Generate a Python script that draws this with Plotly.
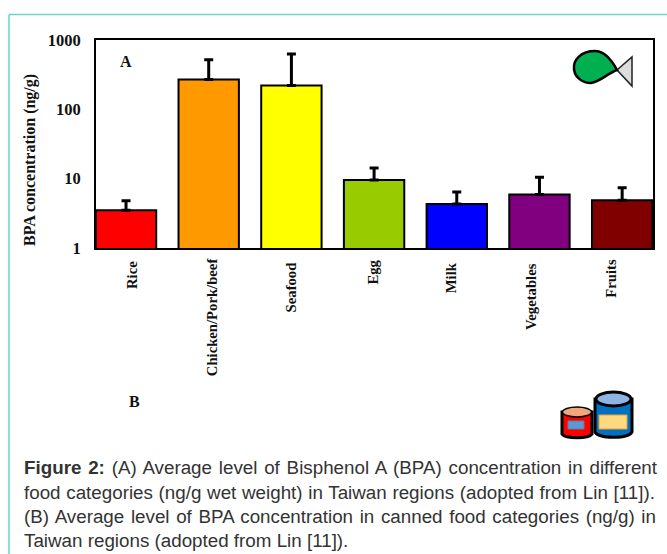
import plotly.graph_objects as go

categories = ["Rice", "Chicken/Pork/beef", "Seafood", "Egg", "Milk", "Vegetables", "Fruits"]
values = [3.5, 270, 220, 9.6, 4.3, 5.9, 4.9]
upper = [4.8, 520, 630, 14.3, 6.4, 10.5, 7.4]
colors = ["#ff0000", "#ff9900", "#ffff00", "#99cc00", "#0000ff", "#800080", "#800000"]
label_shift = [6, 3, 0, -2, -6, -9, -12]
label_top = [260, 256, 261, 259, 261, 262, 258]
y_ticks = [1, 10, 100, 1000]
caption = [
    "<b>Figure 2:</b> (A) Average level of Bisphenol A (BPA) concentration in different",
    "food categories (ng/g wet weight) in Taiwan regions (adopted from Lin [11]).",
    "(B) Average level of BPA concentration in canned food categories (ng/g) in",
    "Taiwan regions (adopted from Lin [11]).",
]

W, H = 667, 554
L, R, T, B = 96, 653, 40, 248
SERIF = "Liberation Serif"
SANS = "Liberation Sans"


def px(x):
    return (x - L) / (R - L)


def py(y):
    return (B - y) / (B - T)


def path(d):
    out, is_x = [], True
    for tok in d.split():
        try:
            v = float(tok)
        except ValueError:
            out.append(tok)
            continue
        out.append(f"{px(v) if is_x else py(v):.5f}")
        is_x = not is_x
    return " ".join(out)


def shape(d, fill, line="#000000", width=2.5):
    return dict(type="path", xref="paper", yref="paper", path=path(d), fillcolor=fill,
                line=dict(color=line, width=width), layer="above")


def ellipse(cx, cy, rx, ry, fill, line="#000000", width=2.5):
    return dict(type="circle", xref="paper", yref="paper", x0=px(cx - rx), x1=px(cx + rx),
                y0=py(cy + ry), y1=py(cy - ry), fillcolor=fill,
                line=dict(color=line, width=width), layer="above")


def rect(x0, y0, x1, y1, fill, line, width=1):
    return dict(type="rect", xref="paper", yref="paper", x0=px(x0), x1=px(x1),
                y0=py(y1), y1=py(y0), fillcolor=fill, line=dict(color=line, width=width), layer="above")


def line(x0, y0, x1, y1, color="#66d6c6", width=1.5):
    return dict(type="line", xref="paper", yref="paper", x0=px(x0), x1=px(x1),
                y0=py(y0), y1=py(y1), line=dict(color=color, width=width), layer="above")


fig = go.Figure()
for c, v, u, col in zip(categories, values, upper, colors):
    fig.add_trace(go.Bar(
        x=[c], y=[v], width=0.73, marker=dict(color=col, line=dict(color="#000000", width=2)),
        showlegend=False,
        error_y=dict(type="data", symmetric=False, array=[u - v], arrayminus=[0],
                     color="#000000", thickness=3, width=4.5),
    ))

shapes = [
    line(9, 14.5, 667, 14.5),
    line(9, 14.5, 9, 554),
    # fish
    shape("M 632 57 L 632 86 L 617 70 Z", "#dddddd", "#222222", 1.5),
    shape("M 617 70 C 610 57 603 51 595 51 C 581 51 573 60 574 69 C 575 78 583 83 591 83 C 600 82 608 73 617 70 Z",
          "#00b050"),
    # canned food
    shape("M 562 412 L 562 434 C 566 439 588 439 592 434 L 592 412 Z", "#ff0000", "#000000", 3),
    ellipse(577, 412, 14.5, 5, "#f4a57c", "#000000", 1.5),
    rect(568, 421, 584, 429, "#5b9bd5", "#5f7f9f"),
    shape("M 595 399 L 595 432 C 599 439 628 439 632 432 L 632 399 Z", "#0070c0", "#000000", 3),
    ellipse(613.5, 399, 17.5, 7, "#8eb4e3", "#000000", 3),
    rect(599, 415, 627, 429, "#ffd980", "#f0a030"),
]

annotations = [
    dict(text="<b>BPA concentration (ng/g)</b>", x=px(30), y=py(160), textangle=-90,
         font=dict(family=SERIF, size=16, color="#111111")),
    dict(text="<b>A</b>", x=px(126), y=py(62), font=dict(family=SERIF, size=16, color="#111111")),
    dict(text="<b>B</b>", x=px(134), y=py(401), font=dict(family=SERIF, size=16, color="#111111")),
]
for c, s, top in zip(categories, label_shift, label_top):
    annotations.append(dict(text=f"<b>{c}</b>", x=c, xref="x", xshift=s, y=py(top - 1), yanchor="top",
                            textangle=-90, font=dict(family=SERIF, size=14.7, color="#111111")))
for t, yy in zip(caption, [468, 492, 516, 540]):
    annotations.append(dict(text=t, x=px(22), y=py(yy), xanchor="left",
                            font=dict(family=SANS, size=18.8, color="#333333")))
for a in annotations:
    a.update(showarrow=False, align="left", yref="paper")
    a.setdefault("xref", "paper")
    a.setdefault("xanchor", "center")
    a.setdefault("yanchor", "middle")

fig.update_layout(
    width=W, height=H, autosize=False,
    margin=dict(l=L, r=W - R, t=T, b=H - B, pad=0),
    paper_bgcolor="#ffffff", plot_bgcolor="#ffffff",
    barmode="overlay", showlegend=False,
    shapes=shapes, annotations=annotations,
    xaxis=dict(type="category", categoryorder="array", categoryarray=categories,
               range=[-0.363, 6.373], showticklabels=False, ticks="",
               showline=True, linecolor="#000000", linewidth=2, mirror=True, showgrid=False),
    yaxis=dict(type="log", range=[0, 3], tickvals=y_ticks, ticktext=[f"<b>{v}</b>" for v in y_ticks],
               tickfont=dict(family=SERIF, size=16.5, color="#111111"), ticks="outside", ticklen=10,
               tickcolor="#ffffff", showline=True, linecolor="#000000", linewidth=2, mirror=True,
               showgrid=False, zeroline=False),
)
post = """
document.body.style.margin='0';
var right=[657,655,656,0];
var cap=Array.prototype.filter.call(document.querySelectorAll('.annotation-text'),function(t){return t.getBBox().width>200;});
cap.forEach(function(t,i){
  if(!right[i]) return;
  var txt=t.textContent, gaps=(txt.match(/ /g)||[]).length;
  var extra=(right[i]-24-t.getComputedTextLength())/gaps;
  if(extra>0) t.style.wordSpacing=extra+'px';
});
"""
fig.write_html("out.html", config={"displayModeBar": False}, post_script=post)
